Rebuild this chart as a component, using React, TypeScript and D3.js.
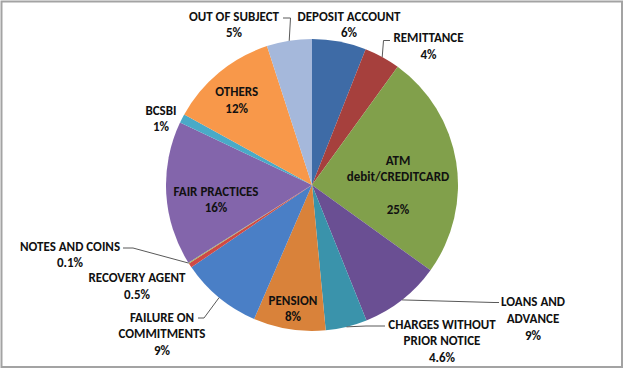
import React from "react";
import * as d3 from "d3";

const categories = [
  "DEPOSIT ACCOUNT", "REMITTANCE", "ATM debit/CREDITCARD", "LOANS AND ADVANCE",
  "CHARGES WITHOUT PRIOR NOTICE", "PENSION", "FAILURE ON COMMITMENTS", "RECOVERY AGENT",
  "NOTES AND COINS", "FAIR PRACTICES", "BCSBI", "OTHERS", "OUT OF SUBJECT",
];
const values = [6, 4, 25, 9, 4.6, 8, 9, 0.5, 0.1, 16, 1, 12, 5];
const labelLines = [
  ["DEPOSIT ACCOUNT"], ["REMITTANCE"], ["ATM", "debit/CREDITCARD", ""], ["LOANS AND", "ADVANCE"],
  ["CHARGES WITHOUT", "PRIOR NOTICE"], ["PENSION"], ["FAILURE ON", "COMMITMENTS"], ["RECOVERY AGENT"],
  ["NOTES AND COINS"], ["FAIR PRACTICES"], ["BCSBI"], ["OTHERS"], ["OUT OF SUBJECT"],
];
const colors = [
  "#3E6BA6", "#A6403D", "#81A04B", "#6A4F93", "#3A93AB", "#D9823A", "#4A7FC6",
  "#CF4A45", "#9BBB59", "#8365AB", "#4AAAC7", "#F8984A", "#A5B8DB",
];

// layout: label center x, first line center y, optional leader polyline tail points
const labelLayout: { x: number; y: number; leader?: [number, number][] }[] = [
  { x: 349, y: 16 },
  { x: 428.5, y: 37.5, leader: [[383.5, 40.5], [390, 40.5]] },
  { x: 398, y: 160 },
  { x: 533, y: 301.7, leader: [[494, 302.5], [499, 302.5]] },
  { x: 442, y: 324, leader: [[366, 326], [385, 326]] },
  { x: 293, y: 300 },
  { x: 162, y: 317, leader: [[204, 318], [198, 318]] },
  { x: 137, y: 277.3 },
  { x: 70, y: 246, leader: [[133, 248], [123, 248]] },
  { x: 216, y: 191 },
  { x: 161, y: 110 },
  { x: 236.7, y: 91.7 },
  { x: 234, y: 16, leader: [[290.5, 18], [283, 18]] },
];

const W = 625, H = 371;
const cx = 312, cy = 185, R = 146;
const lineH = 16.6;

export default function App() {
  const pie = d3.pie<number>().sort(null).value((d) => d).startAngle(0).endAngle(2 * Math.PI);
  const arcs = pie(values);
  const arc = d3.arc<d3.PieArcDatum<number>>().innerRadius(0).outerRadius(R);
  const font = "Carlito, 'Liberation Sans Narrow', 'DejaVu Sans Condensed', Arial, sans-serif";

  return (
    <svg width={W} height={H} style={{ position: "absolute", left: 0, top: 0, background: "#fff" }}>
      <rect x={0} y={0} width={W} height={H} fill="#fff" />
      <rect x={1.5} y={1.5} width={620.5} height={365.5} fill="#fff" stroke="#A3A3A3" strokeWidth={2} />
      <g transform={`translate(${cx},${cy})`}>
        {arcs.map((a, i) => (
          <path key={i} d={arc(a) || ""} fill={colors[i]} />
        ))}
      </g>
      {arcs.map((a, i) => {
        const L = labelLayout[i];
        if (!L.leader) return null;
        const mid = (a.startAngle + a.endAngle) / 2;
        const ex = cx + R * Math.sin(mid);
        const ey = cy - R * Math.cos(mid);
        const pts: [number, number][] = [[ex, ey], ...L.leader];
        return (
          <polyline key={"l" + i} points={pts.map((p) => p.join(",")).join(" ")}
            fill="none" stroke="#595959" strokeWidth={1} />
        );
      })}
      {arcs.map((a, i) => {
        const L = labelLayout[i];
        const lines = [...labelLines[i], `${values[i]}%`];
        return (
          <text key={"t" + i} x={L.x} y={L.y} textAnchor="middle" fontFamily={font}
            fontWeight="bold" fontSize={13} fill="#111">
            {lines.map((s, k) => (
              <tspan key={k} x={L.x} y={L.y + k * lineH + 4.6}>{s}</tspan>
            ))}
          </text>
        );
      })}
    </svg>
  );
}
